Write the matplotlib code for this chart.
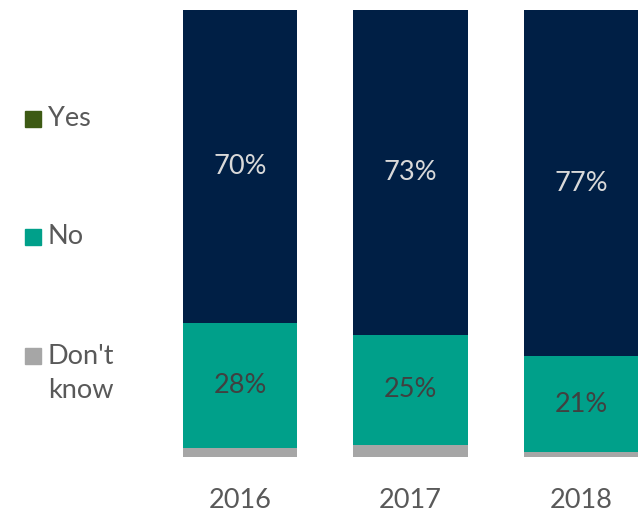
import matplotlib
matplotlib.use("Agg")
import matplotlib.pyplot as plt
from matplotlib.patches import Rectangle

plt.rcParams['font.family'] = ['Lato', 'DejaVu Sans']

years = ["2016", "2017", "2018"]
dont_know = [2.0, 2.7, 1.1]
no = [28.0, 24.6, 21.45]
yes = [70.0, 72.7, 77.45]

c_yes = "#001f45"
c_no = "#00a08a"
c_dk = "#a6a6a6"
c_yes_legend = "#3d5a14"

fs = 19.5

fig = plt.figure(figsize=(6.44, 5.19), dpi=100)
ax = fig.add_axes([183/644, 1-457/519, 455/644, 447/519])

x = list(range(len(years)))
w = 0.67
ax.bar(x, dont_know, width=w, color=c_dk)
ax.bar(x, no, width=w, bottom=dont_know, color=c_no)
b2 = [d + n for d, n in zip(dont_know, no)]
ax.bar(x, yes, width=w, bottom=b2, color=c_yes)

for i in x:
    ax.text(i, dont_know[i] + no[i] / 2, f"{no[i]:.0f}%", ha="center", va="center",
            fontsize=fs, color="#404040")
    ax.text(i, b2[i] + yes[i] / 2, f"{yes[i]:.0f}%", ha="center", va="center",
            fontsize=fs, color="#d9d9d9")

ax.set_xlim(-w/2, len(years) - 1 + w/2)
ax.set_ylim(0, sum([dont_know[0], no[0], yes[0]]))
ax.set_xticks(x)
ax.set_xticklabels(years, fontsize=fs, color="#595959")
ax.tick_params(axis="x", length=0, pad=22)
ax.set_yticks([])
for s in ax.spines.values():
    s.set_visible(False)

# legend
items = [("Yes", c_yes_legend, 119), ("No", c_no, 237), ("Don't\nknow", c_dk, 356)]
for label, col, yc in items:
    sz = 16
    fig.patches.append(Rectangle((25/644, 1-(yc+sz/2)/519), sz/644, sz/519,
                                 transform=fig.transFigure, color=col))
    if "\n" in label:
        l1, l2 = label.split("\n")
        fig.text(48/644, 1-yc/519, l1, ha="left", va="center", fontsize=fs, color="#595959")
        fig.text(48/644, 1-(yc+34)/519, l2, ha="left", va="center", fontsize=fs, color="#595959")
    else:
        fig.text(48/644, 1-yc/519, label, ha="left", va="center", fontsize=fs, color="#595959")

fig.savefig("out.png", dpi=100)
